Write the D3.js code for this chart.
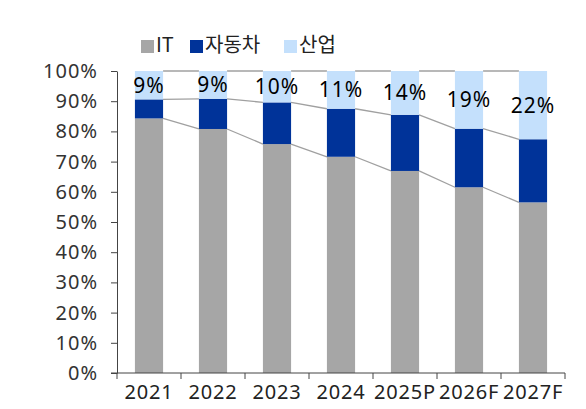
<!DOCTYPE html>
<html lang="ko">
<head>
<meta charset="utf-8">
<title>IT / 자동차 / 산업</title>
<script src="https://cdn.jsdelivr.net/npm/d3@7/dist/d3.min.js"></script>
<style>
	body { margin: 0; background: #fff; }
	text { font-family: "Noto Sans", "Open Sans", sans-serif; }
</style>
</head>
<body>
<div id="chart"></div>
<script>
var years = ["2021", "2022", "2023", "2024", "2025P", "2026F", "2027F"];
var itShare = [84.3, 80.8, 75.8, 71.6, 66.9, 61.5, 56.5];
var autoShare = [6.3, 10, 13.8, 15.9, 18.6, 19.4, 20.9];
var indLabels = [9, 9, 10, 11, 14, 19, 22];
var seriesNames = ["IT", "자동차", "산업"];
var colors = ["#a6a6a6", "#003399", "#c4e0fc"];
var yTicks = [0, 10, 20, 30, 40, 50, 60, 70, 80, 90, 100];

var W = 586, H = 409;
var m = {left: 117, right: 21, top: 71, bottom: 36};

var svg = d3.select("#chart").append("svg")
	.attr("width", W).attr("height", H);

var x = d3.scaleBand().domain(years).range([m.left, W - m.right]).paddingInner(0.56).paddingOuter(0.28);
var xTick = d3.scaleBand().domain(years).range([m.left, W - m.right]);
var y = d3.scaleLinear().domain([0, 100]).range([H - m.bottom, m.top]);

// 100% stack: industry fills the rest of each bar
var rows = years.map(function(yr, i) {
	return {year: yr, it: itShare[i], auto: autoShare[i], ind: 100 - itShare[i] - autoShare[i], label: indLabels[i]};
});
var layers = d3.stack().keys(["it", "auto", "ind"])(rows);

// connector lines between bar edges
var lineG = svg.append("g");
[0, 1, 2].forEach(function(k) {
	for (var i = 0; i < years.length - 1; i++) {
		lineG.append("line")
			.attr("x1", x(years[i]) + x.bandwidth())
			.attr("x2", x(years[i + 1]))
			.attr("y1", y(layers[k][i][1]))
			.attr("y2", y(layers[k][i + 1][1]))
			.attr("stroke", "#a0a0a0")
			.attr("stroke-width", 1.3);
	}
});

// bars
layers.forEach(function(layer, k) {
	svg.append("g").selectAll("rect")
		.data(layer)
		.enter().append("rect")
		.attr("x", function(d) { return x(d.data.year); })
		.attr("width", x.bandwidth())
		.attr("y", function(d) { return y(d[1]); })
		.attr("height", function(d) { return y(d[0]) - y(d[1]); })
		.attr("fill", colors[k]);
});

// industry labels
svg.append("g").selectAll("text")
	.data(layers[2])
	.enter().append("text")
	.attr("x", function(d) { return x(d.data.year) + x.bandwidth() / 2; })
	.attr("y", function(d) { return (y(d[0]) + y(d[1])) / 2; })
	.attr("dy", "0.36em")
	.attr("text-anchor", "middle")
	.attr("font-size", 21)
	.attr("letter-spacing", 1)
	.attr("fill", "#000")
	.text(function(d) { return d.data.label + "%"; });

// y axis
var yAxis = svg.append("g")
	.attr("transform", "translate(" + m.left + ",0)")
	.call(d3.axisLeft(y).tickValues(yTicks).tickSize(6).tickSizeOuter(0)
		.tickFormat(function(d) { return d + "%"; }));
yAxis.select(".domain").attr("stroke", "#444");
yAxis.selectAll(".tick line").attr("stroke", "#444");
yAxis.selectAll(".tick text").attr("font-size", 20).attr("fill", "#333").attr("x", -19)
	.attr("letter-spacing", 1);

// x axis
var xAxis = svg.append("g")
	.attr("transform", "translate(0," + (H - m.bottom) + ")")
	.call(d3.axisBottom(xTick).tickSize(0).tickSizeOuter(0));
xAxis.select(".domain").attr("stroke", "#444").attr("d", "M" + (m.left - 6) + ",0H" + (W - m.right));
xAxis.selectAll(".tick text").attr("font-size", 20).attr("fill", "#222").attr("y", 12)
	.attr("letter-spacing", 0.8);
svg.append("g").selectAll("line")
	.data(d3.range(years.length + 1))
	.enter().append("line")
	.attr("x1", function(i) { return m.left + i * xTick.step(); })
	.attr("x2", function(i) { return m.left + i * xTick.step(); })
	.attr("y1", H - m.bottom).attr("y2", H - m.bottom + 6)
	.attr("stroke", "#444");

// legend
var legX = [141, 190, 284];
var leg = svg.append("g");
seriesNames.forEach(function(name, k) {
	leg.append("rect").attr("x", legX[k]).attr("y", 40).attr("width", 13).attr("height", 13).attr("fill", colors[k]);
	leg.append("text").attr("x", legX[k] + 15).attr("y", 45).attr("dy", "0.36em")
		.attr("font-size", 20).attr("fill", "#222")
		.style("font-family", "'Noto Sans CJK KR', 'Noto Sans', sans-serif")
		.text(name);
});
</script>
</body>
</html>
